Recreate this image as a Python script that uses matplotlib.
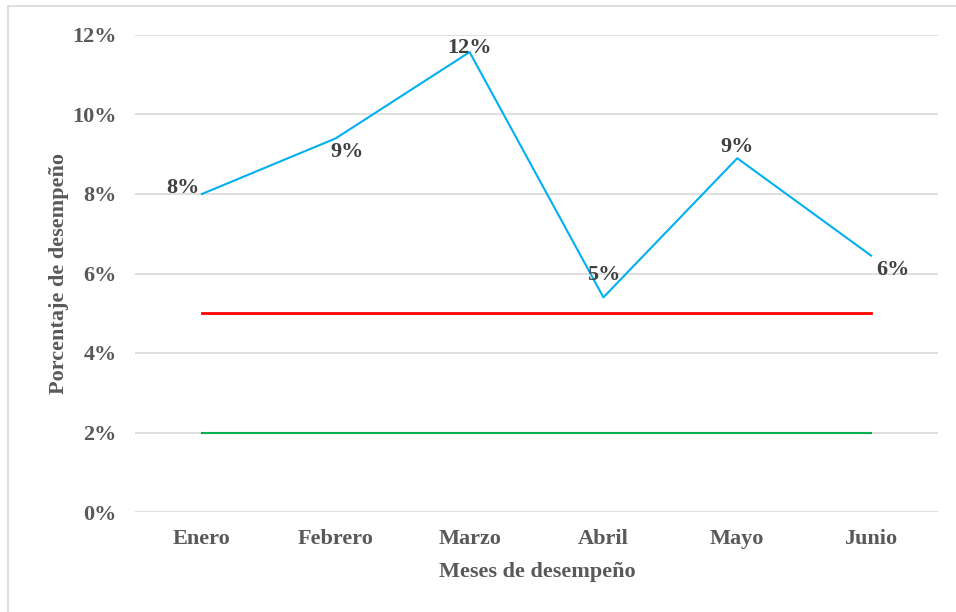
import matplotlib.pyplot as plt
from matplotlib import ticker
from matplotlib.patches import Rectangle

meses = ['Enero', 'Febrero', 'Marzo', 'Abril', 'Mayo', 'Junio']
desempeno = [0.080, 0.094, 0.1157, 0.054, 0.089, 0.0645]
limite_sup = [0.05] * 6
limite_inf = [0.02] * 6
etiquetas = ['8%', '9%', '12%', '5%', '9%', '6%']

# label offsets in points (dx, dy)
offs = [(-14, 4), (8, -10), (0, 3), (0, 16), (0, 8), (16, -10)]

gris = '#595959'
plt.rcParams['font.family'] = ['Liberation Serif', 'DejaVu Serif']
plt.rcParams['font.weight'] = 'bold'

fig = plt.figure(figsize=(9.56, 6.12), dpi=100)
fig.patches.append(Rectangle((8 / 956, -0.1), 1.2, 1 - 6 / 612 + 0.1,
                             transform=fig.transFigure, fill=False,
                             edgecolor='#D9D9D9', linewidth=1.2))
ax = fig.add_axes([135 / 956, 1 - 512 / 612, 803 / 956, 477 / 612])

x = list(range(len(meses)))
ax.plot(x, desempeno, color='#00B0F0', linewidth=1.5, zorder=3)
ax.plot(x, limite_sup, color='#FF0000', linewidth=2, zorder=3)
ax.plot(x, limite_inf, color='#00B050', linewidth=1.5, zorder=3)

for i, (v, t) in enumerate(zip(desempeno, etiquetas)):
    dx, dy = offs[i]
    ax.annotate(t, (i, v), xytext=(dx, dy), textcoords='offset points',
                ha='center', va='center', fontsize=16, fontweight='bold',
                color='#404040', zorder=4)

ax.set_xlim(-0.5, 5.5)
ax.set_ylim(0, 0.12)
ax.set_yticks([0, 0.02, 0.04, 0.06, 0.08, 0.10, 0.12])
ax.yaxis.set_major_formatter(ticker.FuncFormatter(lambda v, pos: '{:.0f}%'.format(v * 100)))
ax.set_xticks(x)
ax.set_xticklabels(meses)
ax.grid(axis='y', color='#D9D9D9', linewidth=1.2)
ax.set_axisbelow(True)
for s in ax.spines.values():
    s.set_visible(False)
ax.tick_params(length=0, labelsize=16, colors=gris)
ax.tick_params(axis='x', pad=12)
ax.tick_params(axis='y', pad=13)
for lab in ax.get_xticklabels() + ax.get_yticklabels():
    lab.set_fontweight('bold')

ax.set_xlabel('Meses de desempeño', fontsize=16, fontweight='bold', color=gris, va='center')
ax.set_ylabel('Porcentaje de desempeño', fontsize=16, fontweight='bold', color=gris, va='center')
ax.xaxis.set_label_coords(0.5006, -0.126)
ax.yaxis.set_label_coords(-0.0946, 0.501)

fig.savefig('out.png', dpi=100)
